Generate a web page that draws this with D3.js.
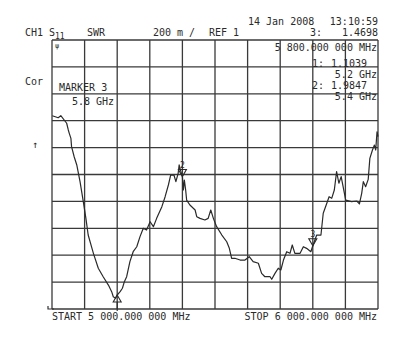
<!DOCTYPE html>
<html>
<head>
<meta charset="UTF-8">
<title>S11 SWR</title>
<script src="https://cdn.jsdelivr.net/npm/d3@7"></script>
<style>
    body { margin:0; padding:0; background:#fff; }
    text { font-family: "DejaVu Sans Mono", monospace; font-size: 10px; fill: #2a2a2a; }
</style>
</head>
<body>
<div id="chart"></div>
<script>
// sweep frequency (GHz) and SWR
var freq = [5.001, 5.019, 5.027, 5.045, 5.050, 5.053, 5.058, 5.060, 5.068, 5.076,
            5.086, 5.096, 5.104, 5.111, 5.127, 5.142, 5.157, 5.173, 5.183, 5.188,
            5.195, 5.200, 5.209, 5.216, 5.222, 5.229, 5.239, 5.249, 5.260, 5.270,
            5.280, 5.290, 5.301, 5.311, 5.321, 5.337, 5.347, 5.357, 5.364, 5.374,
            5.380, 5.387, 5.390, 5.394, 5.400, 5.403, 5.406, 5.410, 5.413, 5.423,
            5.439, 5.444, 5.454, 5.469, 5.479, 5.487, 5.495, 5.505, 5.521, 5.536,
            5.544, 5.551, 5.561, 5.577, 5.592, 5.605, 5.617, 5.633, 5.643, 5.653,
            5.669, 5.674, 5.684, 5.694, 5.702, 5.710, 5.720, 5.730, 5.737, 5.745,
            5.761, 5.771, 5.781, 5.794, 5.800, 5.812, 5.825, 5.832, 5.843, 5.850,
            5.858, 5.866, 5.873, 5.880, 5.887, 5.894, 5.901, 5.919, 5.935, 5.943,
            5.950, 5.955, 5.962, 5.970, 5.975, 5.983, 5.989, 5.993, 5.997, 6.000];
var swr  = [2.437, 2.422, 2.437, 2.381, 2.331, 2.306, 2.269, 2.207, 2.132, 2.071,
            1.947, 1.798, 1.674, 1.550, 1.414, 1.303, 1.240, 1.178, 1.129, 1.091,
            1.080, 1.104, 1.129, 1.154, 1.203, 1.240, 1.352, 1.426, 1.463, 1.538,
            1.600, 1.587, 1.649, 1.612, 1.674, 1.761, 1.835, 1.922, 1.996, 1.996,
            1.947, 2.009, 2.071, 2.033, 1.985, 1.885, 1.959, 1.885, 1.810, 1.773,
            1.736, 1.686, 1.674, 1.662, 1.674, 1.736, 1.674, 1.612, 1.550, 1.500,
            1.451, 1.377, 1.377, 1.364, 1.364, 1.389, 1.352, 1.340, 1.265, 1.240,
            1.240, 1.221, 1.265, 1.303, 1.290, 1.364, 1.426, 1.414, 1.476, 1.414,
            1.414, 1.463, 1.451, 1.426, 1.470, 1.550, 1.550, 1.712, 1.786, 1.835,
            1.823, 1.885, 2.021, 1.935, 1.984, 1.897, 1.810, 1.798, 1.803, 1.781,
            1.860, 1.947, 1.909, 1.964, 2.120, 2.182, 2.219, 2.182, 2.318, 2.281];

// markers: number, frequency, value
var markerNo   = [1, 2, 3];
var markerFreq = [5.2, 5.4, 5.8];
var markerVal  = [1.1039, 1.9847, 1.4698];

var data = freq.map((f, i) => [f, swr[i]]);

var svg = d3.select('#chart').append('svg')
    .attr('width', 410).attr('height', 348)
    .style('display', 'block');

var x = d3.scaleLinear().domain([5, 6]).range([52, 378]);
var y = d3.scaleLinear().domain([1, 3]).range([309, 40]);

// graticule 10 x 10
var grid = svg.append('g').attr('stroke', '#3a3a3a').attr('stroke-width', 1.3);
grid.selectAll('.v').data(x.ticks(10)).join('line')
    .attr('x1', d => x(d)).attr('x2', d => x(d))
    .attr('y1', y(3)).attr('y2', y(1));
grid.selectAll('.h').data(y.ticks(10)).join('line')
    .attr('x1', x(5)).attr('x2', x(6))
    .attr('y1', d => y(d)).attr('y2', d => y(d));

// small reference mark at lower left
svg.append('path')
    .attr('d', `M${x(5) - 4},${y(1) - 3} L${x(5) - 4},${y(1)} L${x(5) + 2},${y(1)}`)
    .attr('fill', 'none').attr('stroke', '#333').attr('stroke-width', 1.2);

// trace
var line = d3.line().x(d => x(d[0])).y(d => y(d[1]));
svg.append('path')
    .datum(data)
    .attr('fill', 'none')
    .attr('stroke', '#2a2a2a')
    .attr('stroke-width', 1.2)
    .attr('stroke-linejoin', 'round')
    .attr('d', line);

// marker symbols
markerNo.forEach((n, i) => {
    var mx = x(markerFreq[i]), my = y(markerVal[i]);
    var g = svg.append('g').attr('fill', 'none').attr('stroke', '#2a2a2a').attr('stroke-width', 1.1);
    if (n === 1) {
        g.append('path').attr('d', `M${mx},${my} L${mx - 4},${my + 7} L${mx + 4},${my + 7} Z`);
        g.append('line').attr('x1', mx).attr('x2', mx).attr('y1', my + 7).attr('y2', y(1) + 2);
    } else {
        g.append('path').attr('d', `M${mx},${my} L${mx - 4},${my - 7} L${mx + 4},${my - 7} Z`);
        svg.append('text').attr('x', mx).attr('y', my - 9).attr('text-anchor', 'middle')
            .style('font-size', '8px').text(n);
    }
});

// header texts
function txt(s, tx, ty, anchor) {
    return svg.append('text').attr('x', tx).attr('y', ty)
        .attr('text-anchor', anchor || 'start').text(s);
}
txt('14 Jan 2008', 248, 25);
txt('13:10:59', 378, 25, 'end');
txt('CH1', 25, 36);
var s = txt('S', 49, 36);
s.append('tspan').attr('dy', 3).style('font-size', '8px').text('11');
txt('SWR', 87, 36);
txt('200 m /', 153, 36);
txt('REF 1', 209, 36);
txt('3:', 310, 36);
txt('1.4698', 378, 36, 'end');

txt('5 800.000 000 MHz', 377, 51, 'end');
txt('1:', 312, 67);
txt('1.1039', 367, 67, 'end');
txt('5.2 GHz', 377, 78, 'end');
txt('2:', 312, 89);
txt('1.9847', 367, 89, 'end');
txt('5.4 GHz', 377, 100, 'end');

txt('Cor', 25, 85);
txt('MARKER 3', 59, 91);
txt('5.8 GHz', 72, 105);
txt('\u2191', 32, 148);
txt('\u03c8', 55, 48).style('font-size', '7px');

txt('START 5 000.000 000 MHz', 52, 320);
txt('STOP 6 000.000 000 MHz', 377, 320, 'end');
</script>
</body>
</html>
